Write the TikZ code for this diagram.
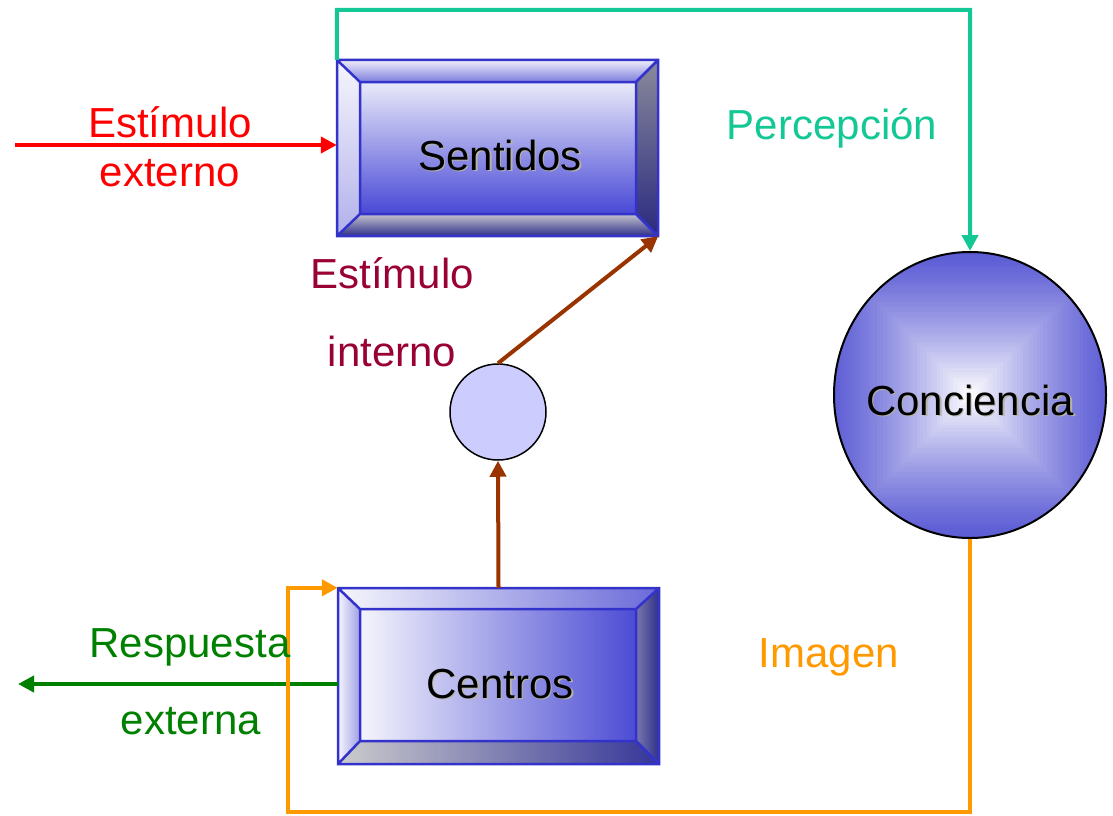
\documentclass[tikz,border=0pt]{standalone}
\usepackage{fontspec}
\setmainfont{Liberation Sans}
\usetikzlibrary{arrows.meta,shapes.geometric}
\definecolor{boxline}{HTML}{3333CC}
\definecolor{cred}{HTML}{FF0000}
\definecolor{cteal}{HTML}{14C896}
\definecolor{cwine}{HTML}{990033}
\definecolor{cgreen}{HTML}{008000}
\definecolor{corange}{HTML}{FF9900}
\definecolor{cbrown}{HTML}{993300}
\definecolor{cblue}{HTML}{5050D2}
\definecolor{smallfill}{HTML}{CCCCFF}
\definecolor{shadowc}{HTML}{B4B4A8}
\definecolor{bevgray}{HTML}{8A8A9C}
\definecolor{bevnavy}{HTML}{2A2A80}
\begin{document}
\begin{tikzpicture}[x=1pt,y=-1pt,
  lbl/.style={font=\fontsize{42}{48}\selectfont, anchor=base, inner sep=0pt},
  shd/.style={lbl, text=shadowc},
  conn/.style={line width=4.5pt, -{Triangle[length=16pt,width=16pt]}},
  frame/.style={draw=boxline, line width=2.5pt, line join=miter},
  holder/.style={draw=none, inner sep=0pt}]
\useasboundingbox (0,0) rectangle (1113,816);

% ---------- Sentidos box ----------
\shade[top color=white!88!cblue, bottom color=cblue!90!blue] (360,82) rectangle (636,214);
\shade[top color=white!90!cblue, bottom color=cblue!75!white] (337,60) -- (658,60) -- (636,82) -- (360,82) -- cycle;
\shade[top color=white!95!cblue, bottom color=cblue!45!white] (337,60) -- (360,82) -- (360,214) -- (337,236) -- cycle;
\shade[top color=bevgray, bottom color=bevnavy] (658,60) -- (658,236) -- (636,214) -- (636,82) -- cycle;
\shade[top color=bevgray!50!white, bottom color=bevnavy!90!cblue] (337,236) -- (360,214) -- (636,214) -- (658,236) -- cycle;
\draw[frame] (337,60) rectangle (658,236) (360,82) rectangle (636,214)
  (337,60) -- (360,82) (658,60) -- (636,82) (337,236) -- (360,214) (658,236) -- (636,214);
\node[holder, minimum width=321pt, minimum height=176pt] (sent) at (497.5,148) {};
\node[shd] (sentshadow) at (501.5,171.5) {Sentidos};
\node[lbl] (senttxt) at (500,170) {Sentidos};

% ---------- Centros box ----------
\shade[left color=white!94!cblue, right color=cblue!95!blue] (360,609) rectangle (636,741);
\shade[left color=white!95!cblue, right color=cblue!85!white] (338,588) -- (659,588) -- (636,609) -- (360,609) -- cycle;
\shade[left color=white!95!cblue, right color=cblue!55!white] (338,588) -- (360,609) -- (360,741) -- (338,764) -- cycle;
\shade[left color=bevgray!70!cblue, right color=bevnavy!85!cblue] (659,588) -- (659,764) -- (636,741) -- (636,609) -- cycle;
\shade[left color=gray!40!white, right color=bevnavy!70!cblue] (338,764) -- (360,741) -- (636,741) -- (659,764) -- cycle;
\draw[frame] (338,588) rectangle (659,764) (360,609) rectangle (636,741)
  (338,588) -- (360,609) (659,588) -- (636,609) (338,764) -- (360,741) (659,764) -- (636,741);
\node[holder, minimum width=321pt, minimum height=176pt] (cent) at (498.5,676) {};
\node[shd] (centshadow) at (501.5,699.5) {Centros};
\node[lbl] (centtxt) at (500,698) {Centros};

% ---------- Conciencia ----------
\begin{scope}
  \clip (970,395) ellipse [x radius=136, y radius=143];
  \foreach \i in {0,...,44} {
    \pgfmathsetmacro\s{1-\i/45}
    \pgfmathsetmacro\p{95*(1-(\i/45)^1.3)}
    \fill[cblue!\p!white] ({970-150*\s},{395-150*\s}) rectangle ({970+150*\s},{395+150*\s});
  }
\end{scope}
\node[ellipse, draw=black, line width=2pt, minimum width=272pt, minimum height=286pt, inner sep=0pt] (consc) at (970,395) {};
\node[shd] (consshadow) at (971.5,416.5) {Conciencia};
\node[lbl] (constxt) at (970,415) {Conciencia};

% ---------- small circle ----------
\node[circle, draw=black, line width=1.5pt, fill=smallfill, minimum size=96pt, inner sep=0pt] (circ) at (498,412) {};

% ---------- connectors ----------
\coordinate (redstart) at (15,145);
\coordinate (greenend) at (18,684);
\coordinate (tealtop) at (337,10);
\coordinate (orangecorner) at (288,812);

\draw[conn, cred] (redstart) -- ([yshift=3pt]sent.west);
\draw[conn, cgreen] ([yshift=-8pt]cent.west) -- (greenend);
\draw[conn, cbrown, line width=4pt] (circ.north) -- (sent.south east);
\draw[conn, cbrown, line width=4pt] (cent.north) -- (circ.south);
\draw[conn, cteal, line width=4pt] (sent.north west) -- (tealtop) -| (consc.north);
\draw[conn, corange] (consc.south) |- (orangecorner) |- (cent.north west);

% ---------- labels ----------
\node[lbl, text=cred] (estext1) at (170,137) {Estímulo};
\node[lbl, text=cred] (estext2) at (170,186) {externo};
\node[lbl, text=cteal] (percep) at (832,139) {Percepción};
\node[lbl, text=cwine] (esint1) at (392,288) {Estímulo};
\node[lbl, text=cwine] (esint2) at (392,366) {interno};
\node[lbl, text=cgreen] (resp1) at (190,657) {Respuesta};
\node[lbl, text=cgreen] (resp2) at (191,734) {externa};
\node[lbl, text=corange] (imagen) at (829,667) {Imagen};
\end{tikzpicture}
\end{document}
